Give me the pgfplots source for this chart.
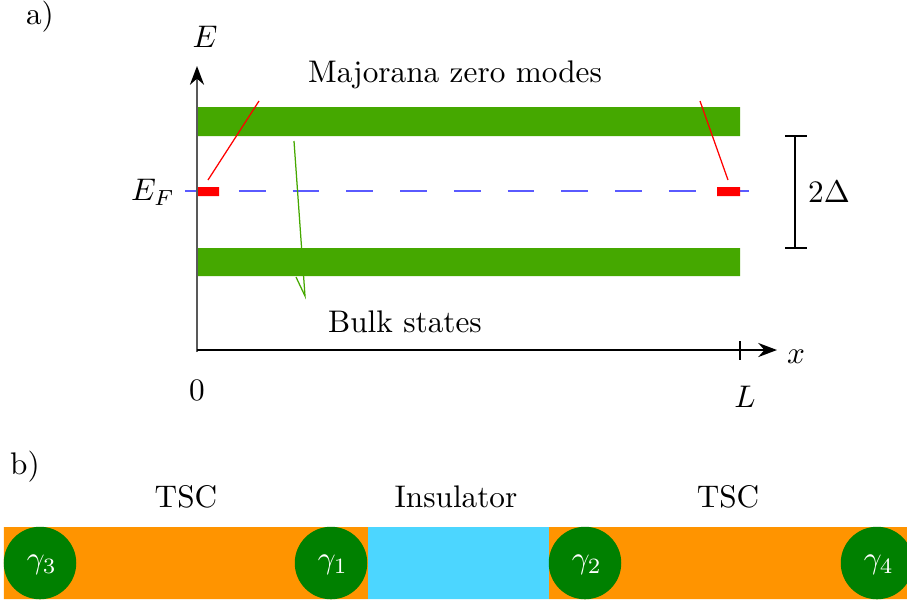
\documentclass[border=0pt]{standalone}
\usepackage{pgfplots}
\pgfplotsset{compat=1.18}
\usetikzlibrary{arrows.meta}
\definecolor{bandgreen}{RGB}{69,168,0}
\definecolor{tscorange}{RGB}{255,148,0}
\definecolor{inscyan}{RGB}{76,214,255}
\definecolor{mgreen}{RGB}{0,128,0}
\definecolor{efblue}{RGB}{90,90,255}
\begin{document}
\begin{tikzpicture}[every node/.style={inner sep=0pt}]
\begin{axis}[
  hide axis, scale only axis,
  width=290.24pt, height=193.6pt,
  xmin=0, xmax=907, ymin=0, ymax=605, y dir=reverse,
  clip=true,
]
% bounding box
\addplot[draw=none] coordinates {(0,0) (907,605)};
% ---------- panel a ----------
% bands
\addplot[fill=bandgreen, draw=none] coordinates {(197,107) (740,107) (740,136) (197,136) (197,107)};
\addplot[fill=bandgreen, draw=none] coordinates {(197,248) (740,248) (740,276) (197,276) (197,248)};
% Fermi level
\addplot[efblue, line width=0.7pt, dash pattern=on 8.6pt off 8.6pt] coordinates {(185,191) (752,191)};
% Majorana bars
\addplot[fill=red, draw=none] coordinates {(197,187) (219,187) (219,196) (197,196) (197,187)};
\addplot[fill=red, draw=none] coordinates {(717,187) (740,187) (740,196) (717,196) (717,187)};
% pointer lines
\addplot[red, line width=0.4pt] coordinates {(208,180) (259,101)};
\addplot[red, line width=0.4pt] coordinates {(728,180) (700,101)};
\addplot[bandgreen, line width=0.4pt] coordinates {(294,141) (305,296) (296,277)};
% axes
\addplot[black!65, line width=0.8pt, -{Stealth[length=6pt,width=4.5pt,black]}] coordinates {(197,352) (197,66)};
\addplot[black, line width=0.6pt, -{Stealth[length=6pt,width=4.5pt]}] coordinates {(197,350) (777,350)};
\addplot[black, line width=0.5pt] coordinates {(740,341) (740,360)};
% 2Delta bracket
\addplot[black, line width=0.5pt] coordinates {(795,136) (795,248)};
\addplot[black, line width=0.5pt] coordinates {(785,136) (807,136)};
\addplot[black, line width=0.5pt] coordinates {(785,248) (807,248)};
% labels
\node at (axis cs:40,17) {a)};
\node at (axis cs:205,37) {$E$};
\node at (axis cs:455,75) {Majorana zero modes};
\node at (axis cs:153,192) {$E_F$};
\node at (axis cs:829,192) {$2\Delta$};
\node at (axis cs:405,322) {Bulk states};
\node at (axis cs:197,390) {$0$};
\node at (axis cs:745,397) {$L$};
\node at (axis cs:796,357) {$x$};
% ---------- panel b ----------
\node at (axis cs:25,467) {b)};
\node at (axis cs:186,497) {TSC};
\node at (axis cs:456,497) {Insulator};
\node at (axis cs:728,497) {TSC};
\addplot[fill=tscorange, draw=none] coordinates {(4,527) (368,527) (368,599) (4,599) (4,527)};
\addplot[fill=inscyan, draw=none] coordinates {(368,527) (549,527) (549,599) (368,599) (368,527)};
\addplot[fill=tscorange, draw=none] coordinates {(549,527) (907,527) (907,599) (549,599) (549,527)};
\addplot[mgreen, only marks, mark=*, mark size=11.4pt, mark options={fill=mgreen, draw=mgreen},
  point meta=explicit symbolic,
  nodes near coords={\textcolor{white}{$\gamma_{\pgfplotspointmeta}$}},
  nodes near coords align={center},
  every node near coord/.append style={inner sep=0pt, xshift=0.6pt, yshift=-0.6pt}]
  coordinates {(40,563) [3] (331,563) [1] (585,563) [2] (877,563) [4]};
\end{axis}
\pgfresetboundingbox
\useasboundingbox (current axis.south west) rectangle (current axis.north east);
\end{tikzpicture}
\end{document}
